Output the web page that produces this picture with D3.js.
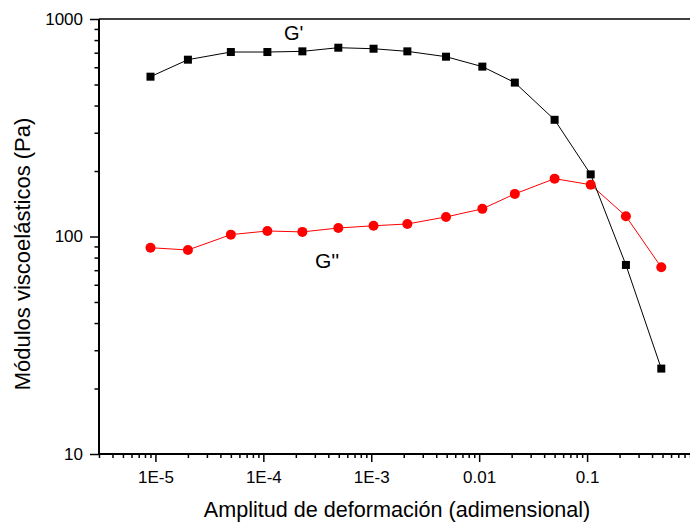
<!DOCTYPE html>
<html>
<head>
<meta charset="utf-8">
<script src="https://cdn.jsdelivr.net/npm/d3@7"></script>
<style>
  body { margin: 0; background: white; }
  text { font-family: "Liberation Sans", Arial, sans-serif; }
</style>
</head>
<body>
<script>
// data
let strain = [9e-6, 2e-5, 5e-5, 1.09e-4, 2.3e-4, 4.95e-4, 1.05e-3, 2.16e-3, 4.93e-3, 0.0107, 0.0214, 0.05, 0.108, 0.229, 0.487];
let gPrime = [543, 650, 705, 705, 710, 738, 730, 710, 671, 604, 510, 344, 193, 74, 24.7];
let gDouble = [88.8, 86.7, 102, 106, 105, 109.4, 112, 114.2, 123, 134, 157, 184.5, 173, 124, 72.2];
let xTicks = [1e-5, 1e-4, 1e-3, 0.01, 0.1];
let xTickLabels = ["1E-5", "1E-4", "1E-3", "0.01", "0.1"];
let yTicks = [10, 100, 1000];

let width = 690;
let height = 522;
let plotLeft = 99, plotTop = 19, plotBottom = 454, plotRight = 695;

let svg = d3.select('body').append('svg')
            .attr('width', width)
            .attr('height', height);

let x = d3.scaleLog().domain([3e-6, 1]).range([plotLeft, plotRight]);
let y = d3.scaleLog().domain([10, 1000]).range([plotBottom, plotTop]);

// minor ticks
let xMinor = [];
for (let e = -6; e <= 0; e++) {
  for (let m = 2; m <= 9; m++) {
    let v = m * Math.pow(10, e);
    if (v >= 3e-6 && v <= 1) xMinor.push(v);
  }
}
let yMinor = [];
for (let e = 1; e <= 2; e++) {
  for (let m = 2; m <= 9; m++) yMinor.push(m * Math.pow(10, e));
}

// top frame line
svg.append("line").attr("x1", plotLeft).attr("x2", width)
                  .attr("y1", plotTop).attr("y2", plotTop)
                  .attr("stroke", "black")
                  .attr("stroke-width", 1.5);

// x axis
let gx = svg.append("g").attr("transform", `translate(0,${plotBottom})`);
gx.call(d3.axisBottom(x).tickValues(xMinor).tickSize(4).tickFormat(""));
gx.select(".domain").remove();
let gx2 = svg.append("g").attr("transform", `translate(0,${plotBottom})`)
             .call(d3.axisBottom(x).tickValues(xTicks).tickSize(8)
                     .tickFormat((d, i) => xTickLabels[i]).tickPadding(9));
gx2.select(".domain").remove();
gx2.selectAll("text").attr("font-size", 17).attr("font-family", "Liberation Sans, Arial, sans-serif").attr("fill", "black");
svg.append("line").attr("x1", plotLeft).attr("x2", width)
                  .attr("y1", plotBottom).attr("y2", plotBottom)
                  .attr("stroke", "black").attr("stroke-width", 2);

// y axis
let gy = svg.append("g").attr("transform", `translate(${plotLeft},0)`);
gy.call(d3.axisLeft(y).tickValues(yMinor).tickSize(4.5).tickFormat(""));
gy.select(".domain").remove();
let gy2 = svg.append("g").attr("transform", `translate(${plotLeft},0)`)
             .call(d3.axisLeft(y).tickValues(yTicks).tickSize(9)
                     .tickFormat(d3.format("d")).tickPadding(7));
gy2.select(".domain").remove();
gy2.selectAll("text").attr("font-size", 17).attr("font-family", "Liberation Sans, Arial, sans-serif").attr("fill", "black");
svg.selectAll("g line").attr("stroke-width", 1.5);
svg.append("line").attr("x1", plotLeft).attr("x2", plotLeft)
                  .attr("y1", plotTop).attr("y2", plotBottom)
                  .attr("stroke", "black").attr("stroke-width", 2);

// lines
let gpData = strain.map((s, i) => [s, gPrime[i]]);
let gdData = strain.map((s, i) => [s, gDouble[i]]);
let line = d3.line().x(d => x(d[0])).y(d => y(d[1]));

svg.append("path").attr("d", line(gdData))
                  .attr("fill", "none")
                  .attr("stroke", "red")
                  .attr("stroke-width", 1);
svg.append("path").attr("d", line(gpData))
                  .attr("fill", "none")
                  .attr("stroke", "black")
                  .attr("stroke-width", 1);

// G'' circles
svg.selectAll(".gd").data(gdData).enter()
   .append("circle").attr("cx", d => x(d[0]))
                    .attr("cy", d => y(d[1]))
                    .attr("r", 5)
                    .attr("fill", "red");

// G' squares
svg.selectAll(".gp").data(gpData).enter()
   .append("rect").attr("x", d => x(d[0]) - 4)
                  .attr("y", d => y(d[1]) - 4)
                  .attr("width", 8)
                  .attr("height", 8)
                  .attr("fill", "black");

// series labels
svg.append("text").attr("x", 284).attr("y", 40)
                  .attr("font-size", 20)
                  .text("G'");
svg.append("text").attr("x", 315).attr("y", 268)
                  .attr("font-size", 21)
                  .text("G''");

// axis titles
svg.append("text").attr("x", 397).attr("y", 517)
                  .attr("text-anchor", "middle")
                  .attr("font-size", 21.6)
                  .text("Amplitud de deformación (adimensional)");
svg.append("text").attr("transform", "translate(30,254) rotate(-90)")
                  .attr("text-anchor", "middle")
                  .attr("font-size", 22)
                  .text("Módulos viscoelásticos (Pa)");
</script>
</body>
</html>
